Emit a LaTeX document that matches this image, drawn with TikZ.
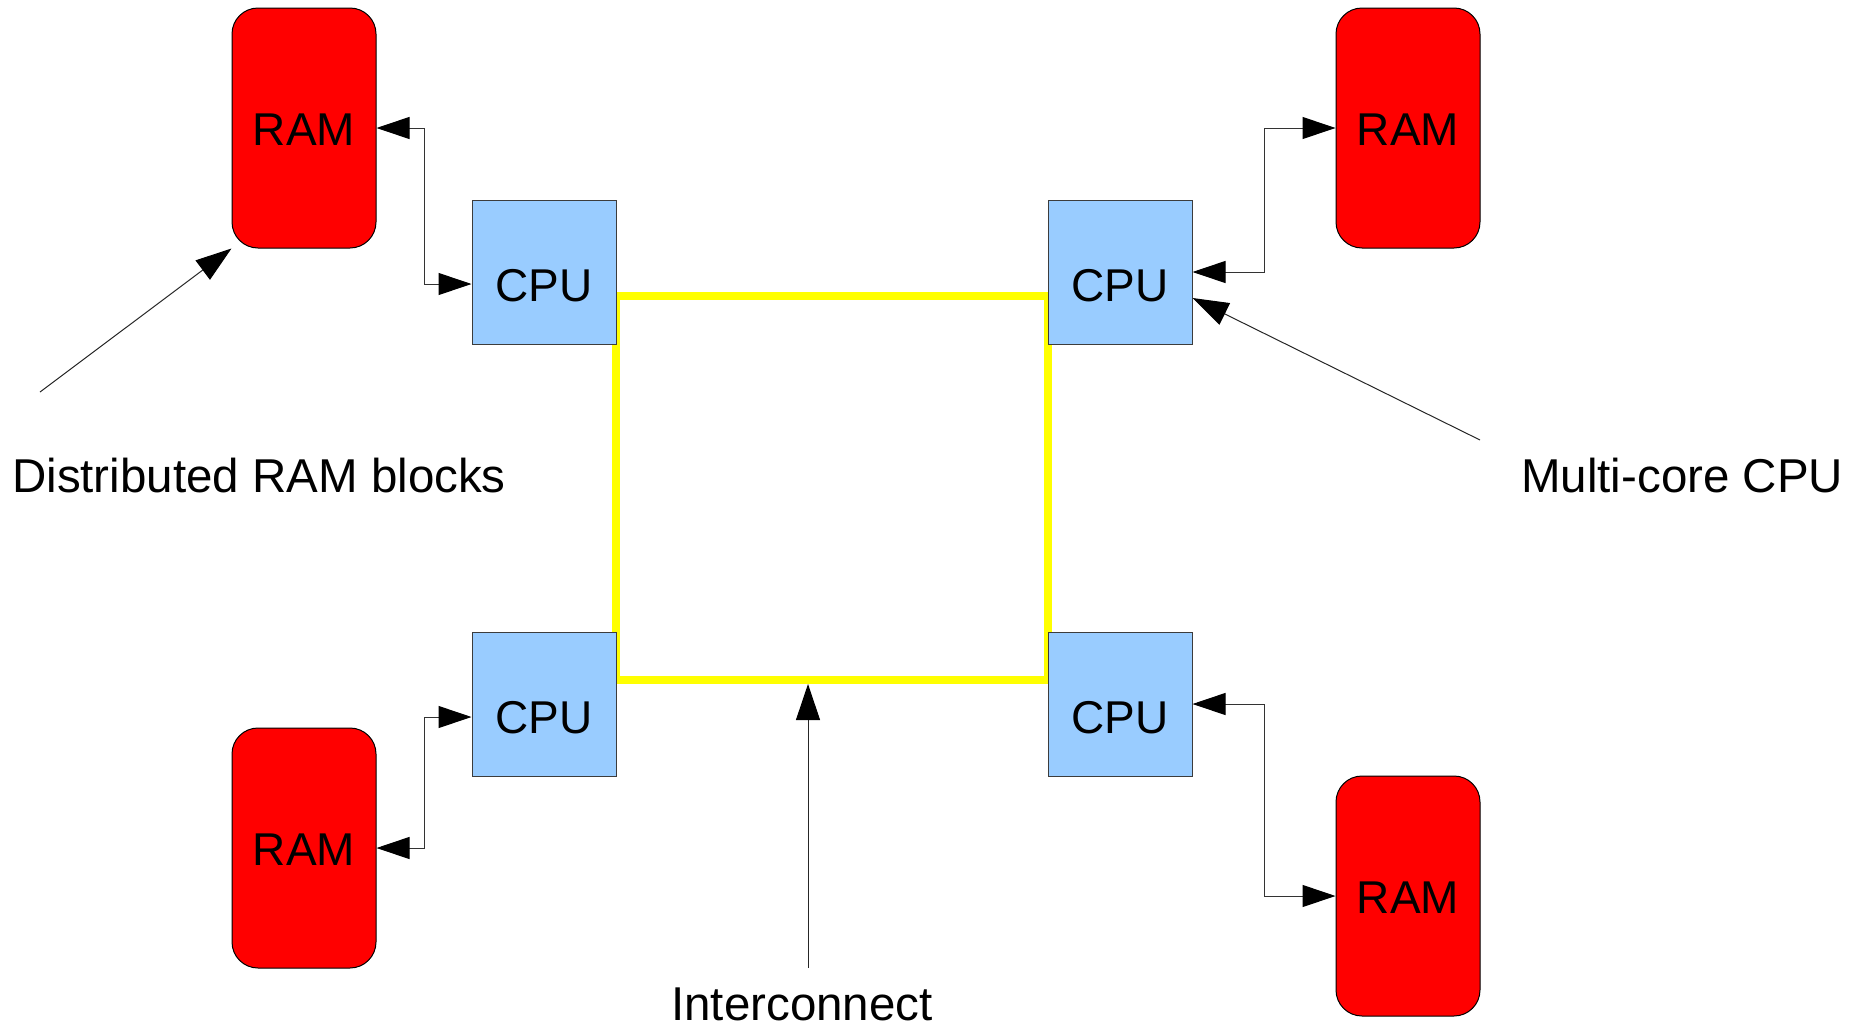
\documentclass[tikz,border=0pt]{standalone}
\usepackage{fontspec}
\setmainfont{Liberation Sans}
\usetikzlibrary{arrows.meta}

\definecolor{cpublue}{HTML}{99CCFF}
\definecolor{cpuedge}{HTML}{3C3C3C}
\definecolor{ramred}{HTML}{FF0000}
\definecolor{ringyellow}{HTML}{FFFF00}
\definecolor{wire}{HTML}{333333}

\tikzset{
  ram/.style={draw=black, line width=1pt, fill=ramred, rounded corners=26pt,
    minimum width=144pt, minimum height=240pt, inner sep=0pt,
    font=\fontsize{46}{55}\selectfont, text height=34pt, text depth=0pt},
  cpu/.style={draw=cpuedge, line width=1pt, fill=cpublue,
    minimum width=144pt, minimum height=144pt, inner sep=0pt,
    font=\fontsize{46}{55}\selectfont, text height=59pt, text depth=0pt},
  ring/.style={draw=ringyellow, line width=8pt, minimum width=432pt,
    minimum height=384pt, inner sep=0pt},
  caption/.style={inner sep=0pt, font=\fontsize{47.5}{57}\selectfont},
  tip/.style={Triangle[length=33pt,width=22pt,color=black]},
  link/.style={draw=wire, line width=1pt, {Triangle[length=33pt,width=22pt,color=black]}-{Triangle[length=33pt,width=22pt,color=black]}},
  pointer/.style={draw=black!85, line width=1pt,
    -{Triangle[length=36pt,width=24pt,color=black]}}
}

\begin{document}
\begin{tikzpicture}[x=1pt, y=-1pt]
  \useasboundingbox (0,0) rectangle (1868,1028);

  % interconnect ring, drawn first so the CPUs sit on top of it
  \node[ring] (net) at (832,488) {};

  % memory blocks
  \node[ram] (ramTL) at (304,128) {RAM};
  \node[ram] (ramTR) at (1408,128) {RAM};
  \node[ram] (ramBL) at (304,848) {RAM};
  \node[ram] (ramBR) at (1408,896) {RAM};

  % processors
  \node[cpu] (cpuTL) at (544,272) {CPU};
  \node[cpu] (cpuTR) at (1120,272) {CPU};
  \node[cpu] (cpuBL) at (544,704) {CPU};
  \node[cpu] (cpuBR) at (1120,704) {CPU};

  % CPU <-> RAM links
  \draw[link] (ramTL.east) -- ++(48,0) |- ([yshift=-12pt]cpuTL.west);
  \draw[link] (cpuTR.east) -- ++(72,0) |- (ramTR.west);
  \draw[link] (ramBL.east) -- ++(48,0) |- ([yshift=-13pt]cpuBL.west);
  \draw[link] (cpuBR.east) -- ++(72,0) |- (ramBR.west);

  % captions
  \node[caption, anchor=base west] (capRAM) at (12,492) {Distributed RAM blocks};
  \node[caption, anchor=base west] (capCPU) at (1521,492) {Multi-core CPU};
  \node[caption, anchor=base] (capNet) at (802,1020) {Interconnect};

  % caption pointers
  \coordinate (fromRAM) at (40,392);
  \coordinate (fromCPU) at (1480,440);
  \coordinate (fromNet) at (808,968);
  \draw[pointer] (fromRAM) -- (ramTL.south west);
  \draw[pointer] (fromCPU) -- ([yshift=-26pt]cpuTR.east);
  \draw[pointer] (fromNet) -- (fromNet |- net.south);
\end{tikzpicture}
\end{document}
